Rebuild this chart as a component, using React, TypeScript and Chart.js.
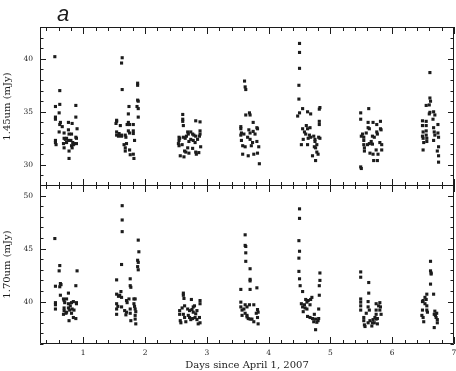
import React, { useEffect, useRef } from 'react';
import { Chart, registerables } from 'chart.js';

Chart.register(...registerables);

type Pt = [number, number];

// 1.45 um photometry: [days since April 1 2007, flux mJy]
const flux145: Pt[] = [
  // night 1
  [0.54, 40.2], [0.62, 37.0], [0.62, 35.7], [0.55, 35.5], [0.55, 34.5], [0.55, 34.3], [0.61, 34.9], [0.63, 34.0],
  [0.62, 33.8], [0.66, 33.6], [0.61, 33.1], [0.76, 34.0], [0.82, 33.9], [0.88, 35.6], [0.88, 34.5], [0.9, 33.4],
  [0.76, 33.3], [0.69, 33.0], [0.77, 32.9], [0.81, 32.9], [0.88, 32.6], [0.89, 32.5], [0.55, 32.3], [0.55, 32.1],
  [0.56, 31.9], [0.69, 32.5], [0.71, 32.4], [0.73, 32.5], [0.68, 32.0], [0.73, 32.1], [0.8, 32.3], [0.83, 32.1],
  [0.86, 32.0], [0.89, 32.0], [0.81, 31.8], [0.84, 31.9], [0.69, 31.6], [0.82, 31.6], [0.77, 31.3], [0.77, 30.6],
  [0.76, 32.3],
  // night 2
  [1.63, 40.1], [1.62, 39.6], [1.63, 37.1], [1.88, 37.7], [1.88, 37.5], [1.88, 36.1], [1.89, 36.0], [1.87, 35.5],
  [1.89, 35.3], [1.89, 34.5], [1.74, 35.5], [1.73, 34.8], [1.54, 34.2], [1.54, 34.1], [1.53, 33.9], [1.6, 33.7],
  [1.71, 33.8], [1.73, 34.0], [1.75, 33.8], [1.81, 33.8], [1.54, 33.1], [1.58, 32.95], [1.62, 32.8], [1.54, 32.8],
  [1.57, 32.7], [1.62, 32.7], [1.68, 32.8], [1.69, 32.6], [1.73, 33.2], [1.75, 33.0], [1.81, 33.2], [1.81, 32.95],
  [1.83, 32.3], [1.66, 31.9], [1.7, 32.0], [1.68, 31.6], [1.68, 31.3], [1.75, 31.4], [1.76, 30.95], [1.81, 31.0],
  [1.82, 30.6],
  // night 3
  [2.61, 34.75], [2.61, 34.3], [2.61, 34.1], [2.62, 33.7], [2.82, 34.15], [2.89, 34.05], [2.69, 33.1], [2.7, 32.9],
  [2.74, 33.1], [2.77, 32.9], [2.79, 32.8], [2.82, 32.7], [2.89, 33.2], [2.89, 32.9], [2.88, 32.7], [2.55, 32.6],
  [2.56, 32.5], [2.55, 32.3], [2.54, 32.0], [2.55, 31.8], [2.62, 32.6], [2.65, 32.5], [2.71, 32.2], [2.74, 32.4],
  [2.78, 32.3], [2.81, 32.1], [2.69, 31.6], [2.64, 31.3], [2.66, 31.2], [2.57, 30.85], [2.63, 30.75], [2.71, 31.1],
  [2.82, 31.2], [2.83, 31.0], [2.87, 31.15], [2.9, 31.7], [2.77, 31.55], [2.85, 32.4], [2.6, 31.9], [2.67, 32.7],
  // night 4
  [3.61, 37.9], [3.62, 37.35], [3.63, 37.1], [3.69, 34.9], [3.7, 34.7], [3.63, 34.7], [3.75, 34.0], [3.55, 33.6],
  [3.55, 33.4], [3.56, 33.0], [3.55, 32.8], [3.68, 33.3], [3.7, 33.0], [3.75, 33.15], [3.78, 32.9], [3.81, 33.5],
  [3.82, 33.4], [3.56, 32.3], [3.58, 31.8], [3.62, 31.7], [3.7, 32.4], [3.74, 32.1], [3.81, 32.2], [3.58, 31.0],
  [3.67, 30.85], [3.76, 31.0], [3.82, 31.1], [3.85, 30.1], [3.66, 32.6], [3.72, 31.8], [3.84, 31.7], [3.6, 32.9],
  // night 5
  [4.5, 41.45], [4.5, 40.6], [4.5, 39.1], [4.49, 37.5], [4.49, 36.2], [4.55, 35.3], [4.5, 34.9], [4.47, 34.6],
  [4.63, 35.0], [4.68, 34.8], [4.83, 35.4], [4.82, 35.25], [4.82, 34.1], [4.82, 33.8], [4.55, 33.4], [4.58, 33.1],
  [4.61, 33.7], [4.63, 33.4], [4.67, 33.5], [4.6, 32.9], [4.66, 32.8], [4.68, 32.6], [4.64, 32.5], [4.56, 32.4],
  [4.53, 31.9], [4.63, 31.9], [4.73, 32.7], [4.75, 32.4], [4.75, 32.2], [4.78, 31.9], [4.74, 31.7], [4.76, 31.6],
  [4.81, 32.6], [4.83, 32.5], [4.71, 30.85], [4.76, 30.4], [4.78, 31.2], [4.8, 31.0],
  // night 6
  [5.49, 34.9], [5.49, 34.3], [5.62, 35.3], [5.61, 34.0], [5.61, 33.5], [5.63, 33.4], [5.69, 34.0], [5.75, 33.8],
  [5.81, 34.1], [5.81, 33.4], [5.5, 32.7], [5.54, 32.6], [5.68, 32.7], [5.71, 32.6], [5.75, 33.1], [5.76, 32.9],
  [5.82, 33.3], [5.54, 32.3], [5.54, 31.9], [5.55, 31.6], [5.55, 31.3], [5.6, 31.9], [5.63, 32.0], [5.68, 31.95],
  [5.64, 31.1], [5.69, 31.0], [5.74, 31.4], [5.77, 31.0], [5.7, 30.4], [5.76, 30.4], [5.8, 32.1], [5.83, 31.9],
  [5.83, 31.4], [5.49, 29.8], [5.5, 29.65], [5.52, 32.9], [5.58, 33.0], [5.66, 32.2],
  // night 7
  [6.61, 38.7], [6.61, 36.3], [6.62, 36.0], [6.55, 35.6], [6.6, 35.65], [6.61, 34.95], [6.6, 34.8], [6.67, 35.0],
  [6.69, 34.7], [6.66, 34.3], [6.49, 34.15], [6.49, 33.7], [6.5, 33.1], [6.49, 32.7], [6.5, 32.5], [6.51, 32.1],
  [6.55, 34.1], [6.55, 33.7], [6.55, 33.2], [6.55, 32.8], [6.56, 32.5], [6.56, 32.2], [6.5, 31.4], [6.67, 33.5],
  [6.68, 33.1], [6.69, 32.8], [6.67, 32.3], [6.74, 33.8], [6.74, 33.0], [6.75, 32.6], [6.75, 31.7], [6.73, 31.3],
  [6.75, 30.85], [6.75, 30.25],
];

// 1.70 um photometry: [days since April 1 2007, flux mJy]
const flux170: Pt[] = [
  // night 1
  [0.54, 45.95], [0.62, 43.4], [0.61, 42.9], [0.9, 42.9], [0.55, 41.45], [0.62, 41.4], [0.63, 41.7], [0.64, 41.6],
  [0.88, 41.5], [0.76, 40.8], [0.63, 40.6], [0.68, 40.25], [0.69, 40.1], [0.73, 40.25], [0.55, 39.9], [0.55, 39.7],
  [0.55, 39.3], [0.7, 39.9], [0.76, 39.8], [0.81, 39.9], [0.84, 40.0], [0.89, 39.9], [0.89, 39.8], [0.69, 39.4],
  [0.69, 39.15], [0.68, 38.8], [0.76, 39.4], [0.78, 39.2], [0.82, 39.3], [0.81, 38.9], [0.73, 39.0], [0.77, 38.2],
  [0.84, 38.5], [0.88, 38.4], [0.85, 39.2], [0.72, 38.9], [0.79, 39.6],
  // night 2
  [1.63, 49.05], [1.63, 47.7], [1.63, 46.6], [1.89, 45.8], [1.9, 44.7], [1.88, 43.9], [1.89, 43.7], [1.88, 43.3],
  [1.89, 43.0], [1.62, 43.5], [1.54, 42.05], [1.76, 42.15], [1.76, 41.5], [1.77, 41.35], [1.61, 40.95], [1.59, 40.6],
  [1.54, 40.7], [1.57, 40.5], [1.62, 40.4], [1.7, 40.1], [1.71, 39.9], [1.74, 40.25], [1.82, 40.25], [1.84, 40.25],
  [1.54, 39.8], [1.56, 39.55], [1.62, 39.5], [1.67, 39.15], [1.7, 39.0], [1.69, 38.75], [1.54, 39.3], [1.54, 38.8],
  [1.76, 39.3], [1.76, 38.9], [1.82, 39.8], [1.83, 39.55], [1.84, 39.3], [1.85, 39.05], [1.84, 38.7], [1.77, 38.2],
  [1.84, 38.35], [1.85, 37.9],
  // night 3
  [2.62, 40.8], [2.62, 40.6], [2.63, 40.3], [2.75, 40.2], [2.89, 40.1], [2.89, 39.8], [2.56, 39.15], [2.56, 38.8],
  [2.57, 38.2], [2.58, 38.0], [2.64, 39.6], [2.69, 39.3], [2.72, 39.15], [2.76, 39.25], [2.78, 39.0], [2.82, 38.85],
  [2.84, 39.15], [2.62, 38.8], [2.64, 38.5], [2.66, 38.1], [2.72, 38.5], [2.74, 38.3], [2.77, 38.4], [2.81, 38.5],
  [2.84, 38.3], [2.88, 38.5], [2.89, 38.0], [2.86, 37.9], [2.78, 39.5], [2.7, 38.7], [2.6, 39.4], [2.8, 39.6],
  // night 4
  [3.62, 46.3], [3.62, 45.3], [3.63, 45.2], [3.63, 44.6], [3.63, 43.8], [3.7, 43.1], [3.7, 42.1], [3.7, 41.95],
  [3.55, 41.15], [3.7, 41.15], [3.81, 41.3], [3.55, 39.95], [3.55, 39.5], [3.57, 39.2], [3.57, 38.7], [3.62, 39.7],
  [3.65, 39.5], [3.69, 39.7], [3.76, 39.7], [3.62, 38.9], [3.65, 38.7], [3.67, 38.4], [3.7, 38.35], [3.73, 38.35],
  [3.76, 38.1], [3.82, 39.25], [3.83, 39.0], [3.8, 38.9], [3.82, 38.5], [3.83, 37.9], [3.65, 38.55], [3.6, 39.3],
  // night 5
  [4.5, 48.75], [4.5, 47.85], [4.49, 45.75], [4.5, 44.75], [4.49, 44.1], [4.49, 42.85], [4.5, 42.15], [4.51, 41.5],
  [4.55, 40.95], [4.83, 42.7], [4.83, 42.0], [4.82, 41.5], [4.82, 40.6], [4.81, 39.3], [4.53, 39.8], [4.55, 39.5],
  [4.58, 39.7], [4.62, 39.95], [4.64, 40.1], [4.68, 40.2], [4.7, 40.4], [4.67, 39.7], [4.62, 39.3], [4.56, 39.05],
  [4.59, 39.4], [4.63, 38.6], [4.67, 38.5], [4.71, 38.4], [4.73, 38.1], [4.76, 38.35], [4.78, 38.05], [4.81, 38.4],
  [4.8, 38.2], [4.76, 37.35], [4.6, 40.2], [4.74, 38.8],
  // night 6
  [5.49, 42.8], [5.49, 42.3], [5.62, 41.8], [5.62, 40.8], [5.61, 40.0], [5.61, 39.5], [5.63, 39.2], [5.49, 40.25],
  [5.49, 39.95], [5.49, 39.6], [5.49, 39.2], [5.74, 39.8], [5.8, 39.9], [5.81, 39.5], [5.8, 39.2], [5.82, 38.8],
  [5.74, 39.2], [5.74, 38.8], [5.72, 38.5], [5.74, 38.35], [5.54, 38.5], [5.54, 38.2], [5.55, 37.8], [5.56, 37.65],
  [5.61, 38.0], [5.64, 38.2], [5.68, 38.0], [5.67, 37.7], [5.71, 38.0], [5.76, 38.4], [5.76, 37.9], [5.69, 38.3],
  [5.78, 39.6], [5.58, 38.9],
  // night 7
  [6.62, 43.8], [6.62, 42.9], [6.63, 42.7], [6.63, 42.6], [6.62, 41.65], [6.56, 40.7], [6.67, 40.7], [6.49, 40.0],
  [6.5, 40.1], [6.53, 40.4], [6.55, 40.2], [6.49, 39.2], [6.48, 38.7], [6.5, 38.5], [6.51, 38.1], [6.56, 39.6],
  [6.56, 39.2], [6.57, 39.0], [6.68, 38.8], [6.7, 38.7], [6.71, 38.5], [6.73, 38.3], [6.73, 38.0], [6.68, 37.55],
  [6.69, 39.1], [6.72, 38.9], [6.53, 39.8],
];

const dayTicks = [1, 2, 3, 4, 5, 6, 7];
const dayRange = [0.3, 7];
const ticks145 = [30, 35, 40];
const range145 = [28, 43];
const ticks170 = [40, 45, 50];
const range170 = [36, 51];

const INK = '#1c1c1c';
const SERIF = '"DejaVu Serif", serif';

const frameTicks = {
  id: 'frameTicks',
  afterDatasetsDraw(chart: any) {
    const { ctx, chartArea: a, scales } = chart;
    const xs = scales.x;
    const ys = scales.y;
    ctx.save();
    ctx.strokeStyle = INK;
    ctx.lineWidth = 1;
    ctx.beginPath();
    ctx.rect(a.left + 0.5, a.top + 0.5, a.right - a.left - 1, a.bottom - a.top - 1);
    // x ticks every 0.2, major at integers
    for (let k = Math.ceil(xs.min * 5); k <= Math.floor(xs.max * 5 + 1e-9); k++) {
      const major = k % 5 === 0;
      const len = major ? 7 : 4;
      const px = Math.round(xs.getPixelForValue(k / 5)) + 0.5;
      ctx.moveTo(px, a.bottom);
      ctx.lineTo(px, a.bottom - len);
      ctx.moveTo(px, a.top);
      ctx.lineTo(px, a.top + len);
    }
    // y ticks every 1, major every 5
    for (let v = Math.ceil(ys.min); v <= Math.floor(ys.max); v++) {
      const major = v % 5 === 0;
      const len = major ? 6 : 3.5;
      const py = Math.round(ys.getPixelForValue(v)) + 0.5;
      ctx.moveTo(a.left, py);
      ctx.lineTo(a.left + len, py);
      ctx.moveTo(a.right, py);
      ctx.lineTo(a.right - len, py);
    }
    ctx.stroke();
    ctx.restore();
  },
};

const panelLabel = {
  id: 'panelLabel',
  afterDraw(chart: any, _args: any, opts: any) {
    if (!opts || !opts.text) return;
    const { ctx } = chart;
    ctx.save();
    ctx.fillStyle = INK;
    ctx.font = 'italic 22px "Liberation Sans", sans-serif';
    ctx.textBaseline = 'alphabetic';
    ctx.textAlign = 'left';
    ctx.fillText(opts.text, 57, 21);
    ctx.restore();
  },
};

function noAutoPadding(s: any) {
  s.paddingTop = 0;
  s.paddingBottom = 0;
  s.paddingLeft = 0;
  s.paddingRight = 0;
}

function makeConfig(
  points: Pt[],
  yRange: number[],
  yTicks: number[],
  yTitle: string,
  showX: boolean,
  label: string,
): any {
  return {
    type: 'scatter',
    data: {
      datasets: [
        {
          data: points.map(([d, f]) => ({ x: d, y: f })),
          pointStyle: 'rect',
          pointRadius: 2.2,
          pointBorderWidth: 0,
          backgroundColor: INK,
          borderColor: INK,
          showLine: false,
        },
      ],
    },
    options: {
      responsive: false,
      animation: false,
      events: [],
      layout: { autoPadding: false, padding: { left: 0, right: 2, top: showX ? 0 : 27, bottom: 0 } },
      plugins: {
        legend: { display: false },
        tooltip: { enabled: false },
        panelLabel: { text: label },
      },
      scales: {
        x: {
          type: 'linear',
          display: showX,
          min: dayRange[0],
          max: dayRange[1],
          position: 'bottom',
          afterBuildTicks: (s: any) => {
            s.ticks = dayTicks.map((v) => ({ value: v }));
          },
          afterFit: (s: any) => {
            s.height = showX ? 27 : 0;
            noAutoPadding(s);
          },
          grid: { display: false, drawTicks: false },
          border: { display: false },
          ticks: { font: { family: SERIF, size: 7.5 }, color: INK, padding: 5, maxRotation: 0, autoSkip: false },
          title: {
            display: showX,
            text: 'Days since April 1, 2007',
            font: { family: SERIF, size: 10 },
            color: INK,
            padding: 0,
          },
        },
        y: {
          type: 'linear',
          min: yRange[0],
          max: yRange[1],
          position: 'left',
          afterBuildTicks: (s: any) => {
            s.ticks = yTicks.map((v) => ({ value: v }));
          },
          afterFit: (s: any) => {
            s.width = 40;
            noAutoPadding(s);
          },
          grid: { display: false, drawTicks: false },
          border: { display: false },
          ticks: { font: { family: SERIF, size: 7.5 }, color: INK, padding: 7 },
          title: {
            display: true,
            text: yTitle,
            font: { family: SERIF, size: 10 },
            color: INK,
            padding: { top: 1, bottom: 0 },
          },
        },
      },
    },
    plugins: [frameTicks, panelLabel],
  };
}

export default function App() {
  const topRef = useRef<HTMLCanvasElement | null>(null);
  const botRef = useRef<HTMLCanvasElement | null>(null);

  useEffect(() => {
    if (!topRef.current || !botRef.current) return;
    const top = new Chart(topRef.current, makeConfig(flux145, range145, ticks145, '1.45um (mJy)', false, 'a'));
    const bot = new Chart(botRef.current, makeConfig(flux170, range170, ticks170, '1.70um (mJy)', true, ''));
    return () => {
      top.destroy();
      bot.destroy();
    };
  }, []);

  return (
    <div style={{ position: 'absolute', left: 0, top: 0, width: 456, height: 371, background: '#fff' }}>
      <canvas ref={topRef} width={456} height={186} style={{ position: 'absolute', left: 0, top: 0 }} />
      <canvas ref={botRef} width={456} height={186} style={{ position: 'absolute', left: 0, top: 185 }} />
    </div>
  );
}
